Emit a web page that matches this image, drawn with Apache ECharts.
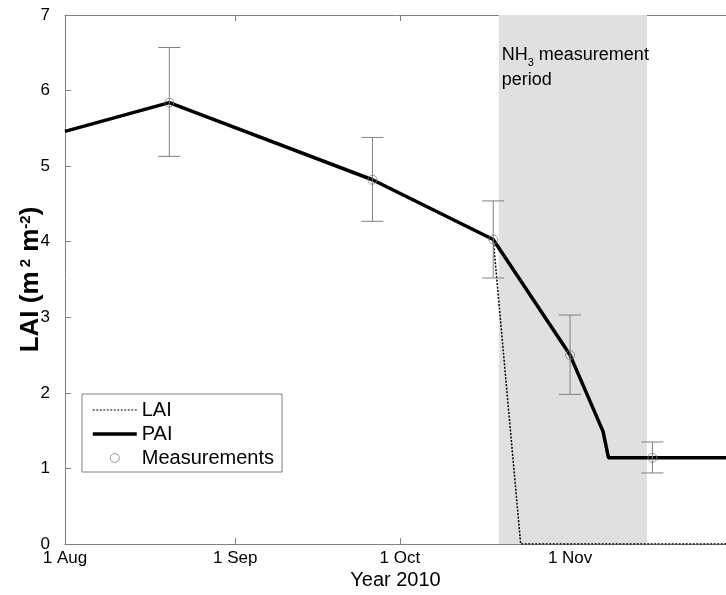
<!DOCTYPE html>
<html>
<head>
<meta charset="utf-8">
<script src="https://cdn.jsdelivr.net/npm/echarts@6/dist/echarts.min.js"></script>
<style>
html,body{margin:0;padding:0;background:#fff;}
#chart{width:726px;height:595px;}
</style>
</head>
<body>
<div id="chart"></div>
<script>
// Days counted from 1 Aug 2010
const xTickDays = [0, 31, 61, 92];
const xTickLabels = ['1 Aug', '1 Sep', '1 Oct', '1 Nov'];

const paiDays = [0, 19, 56, 78, 92, 98, 99, 122];
const paiValues = [5.46, 5.84, 4.82, 4.03, 2.50, 1.49, 1.14, 1.14];

const laiDays = [0, 19, 56, 78, 83, 122];
const laiValues = [5.46, 5.84, 4.82, 4.03, 0, 0];

const measDays = [19, 56, 78, 92, 107];
const measValues = [5.84, 4.82, 4.03, 2.50, 1.14];
const measLow = [5.13, 4.27, 3.52, 1.98, 0.94];
const measHigh = [6.57, 5.38, 4.54, 3.03, 1.35];

const nh3Period = [79, 106];

const FONT = 'Liberation Sans, Arial, sans-serif';
const AXIS_GRAY = '#808080';

const chart = echarts.init(document.getElementById('chart'), null, {renderer: 'canvas'});

const pai = paiDays.map((d, i) => [d, paiValues[i]]);
const lai = laiDays.map((d, i) => [d, laiValues[i]]);
const meas = measDays.map((d, i) => [d, measValues[i]]);
const errs = measDays.map((d, i) => [d, measLow[i], measHigh[i]]);

const noSymbol = {color: 'rgba(0,0,0,0)', borderColor: 'rgba(0,0,0,0)', borderWidth: 0};

const option = {
  animation: false,
  backgroundColor: '#fff',
  grid: {left: 65, right: 0, top: 15, bottom: 51, outerBoundsMode: 'none'},
  xAxis: [{
    type: 'value', min: 0, max: 120.4, position: 'bottom',
    name: 'Year 2010', nameLocation: 'middle', nameGap: 26, nameMoveOverlap: false,
    nameTextStyle: {fontFamily: FONT, fontSize: 20, color: '#000'},
    axisLine: {show: true, lineStyle: {color: AXIS_GRAY, width: 1}},
    axisTick: {show: true, inside: true, length: 6, customValues: xTickDays, lineStyle: {color: AXIS_GRAY}},
    axisLabel: {customValues: xTickDays, fontFamily: FONT, fontSize: 17, color: '#000', margin: 6,
      formatter: v => xTickLabels[xTickDays.indexOf(v)] || ''},
    splitLine: {show: false}
  }, {
    type: 'value', min: 0, max: 120.4, position: 'top',
    axisLine: {show: true, lineStyle: {color: AXIS_GRAY, width: 1}},
    axisTick: {show: true, inside: true, length: 6, customValues: xTickDays, lineStyle: {color: AXIS_GRAY}},
    axisLabel: {show: false},
    splitLine: {show: false}
  }],
  yAxis: {
    type: 'value', min: 0, max: 7, interval: 1,
    name: '{a|LAI (m}{s| 2}{a| m}{s|-2}{a|)}', nameLocation: 'middle', nameGap: 21, nameMoveOverlap: false,
    nameTextStyle: {
      rich: {
        a: {fontFamily: FONT, fontSize: 26, fontWeight: 'bold', color: '#000'},
        s: {fontFamily: FONT, fontSize: 15, fontWeight: 'bold', color: '#000', verticalAlign: 'top'}
      }
    },
    axisLine: {show: true, lineStyle: {color: AXIS_GRAY, width: 1}},
    axisTick: {show: true, inside: true, length: 6, lineStyle: {color: AXIS_GRAY}},
    axisLabel: {fontFamily: FONT, fontSize: 17, color: '#000', margin: 15},
    splitLine: {show: false}
  },
  legend: {
    orient: 'vertical', left: 82, top: 394,
    backgroundColor: '#fff', borderColor: AXIS_GRAY, borderWidth: 1,
    padding: [6, 8, 4, 9],
    itemWidth: 44, itemHeight: 9, itemGap: 4,
    textStyle: {fontFamily: FONT, fontSize: 20, color: '#000'},
    data: [
      {name: 'LAI', itemStyle: noSymbol, lineStyle: {color: '#000', width: 1.2, type: [2, 1.5]}},
      {name: 'PAI', itemStyle: noSymbol, lineStyle: {color: '#000', width: 3.5}},
      {name: 'Measurements', icon: 'circle', itemStyle: {color: 'rgba(0,0,0,0)', borderColor: AXIS_GRAY, borderWidth: 1}}
    ]
  },
  series: [
    {
      name: 'shade', type: 'line', data: [], z: 1, silent: true,
      markArea: {
        silent: true,
        itemStyle: {color: '#e0e0e0'},
        label: {
          show: true, position: [3, 28],
          formatter: '{n|NH}{s|3}{n| measurement}\n{n|period}',
          rich: {
            n: {fontFamily: FONT, fontSize: 18, color: '#000', lineHeight: 25},
            s: {fontFamily: FONT, fontSize: 11, color: '#000', verticalAlign: 'bottom', lineHeight: 25}
          }
        },
        data: [[{xAxis: nh3Period[0]}, {xAxis: nh3Period[1]}]]
      }
    },
    {
      name: 'LAI', type: 'line', data: lai, symbol: 'none', z: 3,
      lineStyle: {color: '#000', width: 1.5, type: [2, 1.5]},
      itemStyle: {color: '#000'}
    },
    {
      name: 'PAI', type: 'line', data: pai, symbol: 'none', z: 4,
      lineStyle: {color: '#000', width: 3.5},
      itemStyle: {color: '#000'}
    },
    {
      name: 'errors', type: 'custom', data: errs, z: 5, silent: true,
      encode: {x: 0, y: [1, 2]},
      renderItem: (params, api) => {
        const x = api.value(0);
        const lo = api.coord([x, api.value(1)]);
        const hi = api.coord([x, api.value(2)]);
        const hw = 11;
        const st = {stroke: AXIS_GRAY, lineWidth: 1};
        return {type: 'group', children: [
          {type: 'line', shape: {x1: lo[0], y1: lo[1], x2: hi[0], y2: hi[1]}, style: st},
          {type: 'line', shape: {x1: lo[0] - hw, y1: lo[1], x2: lo[0] + hw, y2: lo[1]}, style: st},
          {type: 'line', shape: {x1: hi[0] - hw, y1: hi[1], x2: hi[0] + hw, y2: hi[1]}, style: st}
        ]};
      }
    },
    {
      name: 'Measurements', type: 'scatter', data: meas, z: 6,
      symbol: 'circle', symbolSize: 9,
      itemStyle: {color: 'rgba(0,0,0,0)', borderColor: AXIS_GRAY, borderWidth: 1}
    }
  ]
};
chart.setOption(option);
</script>
</body>
</html>
